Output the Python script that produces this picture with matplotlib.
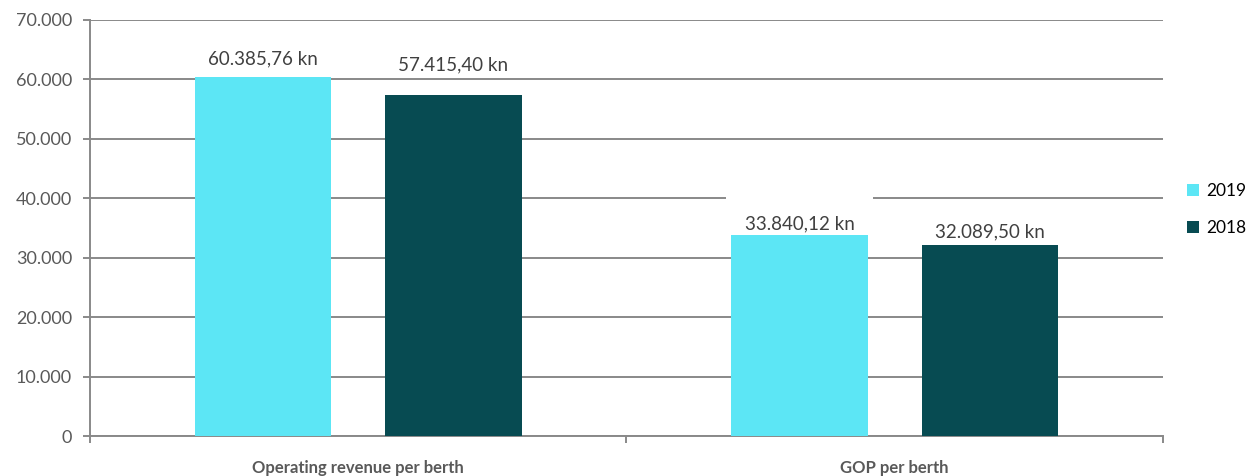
import matplotlib
matplotlib.use("Agg")
import matplotlib.pyplot as plt
from matplotlib.ticker import FuncFormatter, MultipleLocator
import numpy as np

categories = ["Operating revenue per berth", "GOP per berth"]
series_names = ["2019", "2018"]
values_2019 = [60385.76, 33840.12]
values_2018 = [57415.40, 32089.50]

colors = ["#5CE6F5", "#074B52"]
grid_color = "#898989"
text_gray = "#595959"

# label placement above each bar (points), per series / category
label_lift = [[13.5, 8.0], [21.5, 9.5]]
label_boxed = [[False, True], [False, False]]

plt.rcParams["font.family"] = ["Lato", "DejaVu Sans"]


def fmt_thousands(v, decimals=0):
    s = f"{v:,.{decimals}f}"
    return s.replace(",", "X").replace(".", ",").replace("X", ".")


fig = plt.figure(figsize=(12.54, 4.76), dpi=100)
ax = fig.add_axes([0.0718, 0.084, 0.8556, 0.874])

x = np.arange(len(categories))
width = 0.255
gap = 0.1
offsets = [-(width + gap) / 2, (width + gap) / 2]

for i, (vals, off, col, name) in enumerate(zip([values_2019, values_2018], offsets,
                                               colors, series_names)):
    bars = ax.bar(x + off, vals, width, color=col, label=name, zorder=3)
    for j, (b, v) in enumerate(zip(bars, vals)):
        box = (dict(boxstyle="square,pad=1.0", fc="white", ec="none")
               if label_boxed[i][j] else None)
        ax.annotate(f"{fmt_thousands(v, 2)} kn",
                    (b.get_x() + b.get_width() / 2, v),
                    xytext=(0, label_lift[i][j]), textcoords="offset points",
                    ha="center", va="center", fontsize=13.5, color="#404040",
                    zorder=2, bbox=box)

ax.set_xlim(-0.5, 1.5)
ax.set_ylim(0, 70000)
ax.yaxis.set_major_locator(MultipleLocator(10000))
ax.yaxis.set_major_formatter(FuncFormatter(lambda v, p: fmt_thousands(v)))
ax.grid(axis="y", color=grid_color, linewidth=1.4, zorder=0)
ax.set_axisbelow(True)

for side in ["top", "right"]:
    ax.spines[side].set_visible(False)
for side in ["left", "bottom"]:
    ax.spines[side].set_color(grid_color)
    ax.spines[side].set_linewidth(1.4)

ax.tick_params(axis="y", length=5, width=1.4, color=grid_color,
               labelsize=13, labelcolor=text_gray, pad=8)
ax.set_xticks([-0.5, 0.5, 1.5])
ax.set_xticks(x, minor=True)
ax.set_xticklabels([])
ax.set_xticklabels(categories, minor=True, fontweight="bold", fontsize=12,
                   color=text_gray)
ax.tick_params(axis="x", which="major", length=5, width=1.4, color=grid_color)
ax.tick_params(axis="x", which="minor", length=0, pad=17)

fig.legend(loc="center left", bbox_to_anchor=(0.934, 0.56), frameon=False,
           fontsize=12.5, handlelength=0.7, handleheight=0.7,
           handletextpad=0.4, labelspacing=1.2)

fig.savefig("out.png", dpi=100)
